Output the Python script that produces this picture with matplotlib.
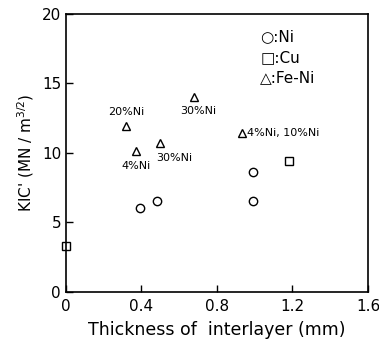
import matplotlib
matplotlib.use("Agg")
import matplotlib.pyplot as plt

# Data
ni_x = [0.39, 0.48, 0.99, 0.99]
ni_y = [6.0, 6.5, 8.6, 6.5]
cu_x = [0.0, 1.18]
cu_y = [3.3, 9.4]
feni_x = [0.32, 0.37, 0.50, 0.68, 0.93]
feni_y = [11.9, 10.1, 10.7, 14.0, 11.4]
feni_labels = ["20%Ni", "4%Ni", "30%Ni", "30%Ni", "4%Ni, 10%Ni"]
xticks = [0, 0.4, 0.8, 1.2, 1.6]
yticks = [0, 5, 10, 15, 20]

fig = plt.figure(figsize=(3.79, 3.47), dpi=100)
ax = fig.add_axes([0.174, 0.159, 0.797, 0.801])

mk = dict(linestyle="none", markerfacecolor="none", markeredgecolor="black",
          markeredgewidth=1.0, clip_on=False)
ax.plot(ni_x, ni_y, marker="o", markersize=6, **mk)
ax.plot(cu_x, cu_y, marker="s", markersize=6, **mk)
ax.plot(feni_x, feni_y, marker="^", markersize=6, **mk)

# annotations: offsets (points) and alignment per label
offsets = [(0, 7, "center", "bottom"),
           (0, -7, "center", "top"),
           (-3, -7, "left", "top"),
           (3, -6, "center", "top"),
           (4, 0, "left", "center")]
for x, y, lab, (dx, dy, ha, va) in zip(feni_x, feni_y, feni_labels, offsets):
    ax.annotate(lab, (x, y), xytext=(dx, dy), textcoords="offset points",
                ha=ha, va=va, fontsize=8)

# legend as text
ax.text(1.03, 18.35, "○:Ni", fontsize=11, va="center", ha="left")
ax.text(1.03, 16.85, "□:Cu", fontsize=11, va="center", ha="left")
ax.text(1.03, 15.4, "△:Fe-Ni", fontsize=11, va="center", ha="left")

ax.set_xlim(0, 1.6)
ax.set_ylim(0, 20)
ax.set_xticks(xticks)
ax.set_xticklabels(["0", "0.4", "0.8", "1.2", "1.6"])
ax.set_yticks(yticks)
ax.tick_params(direction="in", length=5, labelsize=11, width=1)
ax.tick_params(axis="x", pad=5)
ax.set_xlabel("Thickness of  interlayer (mm)", fontsize=12.5, labelpad=5)
ax.set_ylabel("KIC' (MN / m$^{3/2}$)", fontsize=11)
for s in ax.spines.values():
    s.set_linewidth(1.2)

fig.savefig("out.png", dpi=100)
